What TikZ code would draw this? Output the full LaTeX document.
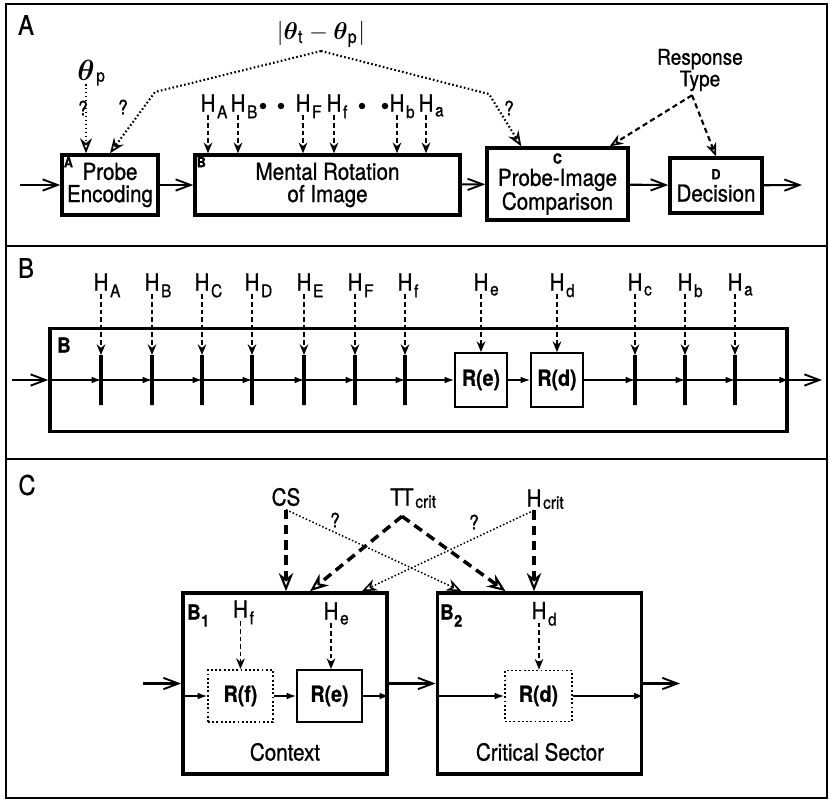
\documentclass[tikz,border=0pt]{standalone}
\usepackage{amsmath}
\usepackage{fontspec}
\setmainfont{TeX Gyre Heros}[FakeStretch=0.88, FakeBold=0.8]
\usetikzlibrary{positioning, arrows.meta, calc}

\newcommand{\mainsize}{\fontsize{20}{19}\selectfont}
\newcommand{\subsize}{\fontsize{15}{15}\selectfont}
\newcommand{\tagsize}{\fontsize{12}{12}\selectfont\bfseries}

\begin{document}
\begin{tikzpicture}[
    x=0.03cm, y=-0.03cm,
    panel/.style={line width=1.5pt},
    panelmark/.style={font=\fontsize{23}{23}\selectfont, inner sep=0pt},
    stage/.style={draw, line width=3pt, align=center, font=\mainsize, inner sep=2pt},
    rbox/.style={draw, line width=1.6pt, font=\fontsize{19}{19}\selectfont\bfseries, minimum width=1.56cm, minimum height=1.62cm},
    rdot/.style={rbox, dash pattern=on 1.6pt off 2pt},
    bar/.style={draw, line width=3pt, minimum width=0pt, minimum height=1.5cm, inner sep=0pt, outer sep=0pt},
    hlab/.style={font=\mainsize, inner sep=3pt},
    sub/.style={font=\subsize, anchor=west, inner sep=0pt, xshift=-2pt, yshift=-7.5pt},
    tag/.style={font=\tagsize, inner sep=3pt},
    bigtag/.style={font=\fontsize{18}{18}\selectfont\bfseries, inner sep=0pt},
    qm/.style={font=\fontsize{17}{17}\selectfont, inner sep=0pt},
    dot/.style={circle, fill, inner sep=0pt, minimum size=5.5pt},
    flow/.style={line width=1.8pt, -{Straight Barb[length=4.5mm, width=3.4mm, line width=1.6pt]}},
    link/.style={line width=1.1pt, -{Latex[length=2.8mm, width=2mm]}},
    cue/.style={line width=1.8pt, dash pattern=on 4pt off 2.5pt, -{Stealth[length=3.2mm, width=2.6mm]}},
    cuethin/.style={line width=1.4pt, dash pattern=on 4pt off 2.5pt, -{Stealth[open, length=3.2mm, width=2.6mm]}},
    probe/.style={line width=1.8pt, dash pattern=on 1.4pt off 2pt, -{Stealth[open, length=4.5mm, width=3.6mm, line width=1.5pt]}},
    resp/.style={line width=1.8pt, dash pattern=on 4.5pt off 3pt, -{Stealth[open, length=4mm, width=3.2mm, line width=1.4pt]}},
    heavy/.style={line width=3pt, dash pattern=on 8pt off 5pt, -{Stealth[open, length=5.5mm, width=4.4mm, line width=1.8pt]}},
    faint/.style={line width=1.3pt, dash pattern=on 1.3pt off 1.8pt, -{Stealth[open, length=4.5mm, width=3.6mm, line width=1.3pt]}}
]
\useasboundingbox (0,0) rectangle (830,800);

% panel frames
\draw[panel] (6,4) rectangle (827,246);
\draw[panel] (6,246) rectangle (827,459);
\draw[panel] (6,459) rectangle (827,798);
\node[panelmark] (labA) at (26,25) {A};
\node[panelmark] (labB) at (26,268) {B};
\node[panelmark] (labC) at (27,485) {C};

% ---- panel A ----
\node[stage, minimum width=2.88cm, minimum height=1.8cm] (pA) at (110,185) {Probe\\Encoding};
\node[stage, minimum width=7.95cm, minimum height=1.8cm] (pB) at (327.5,185) {Mental Rotation\\of Image};
\node[stage, minimum width=4.23cm, minimum height=2.16cm] (pC) at (557.5,184) {{\tagsize C}\\Probe-Image\\Comparison};
\node[stage, minimum width=2.76cm, minimum height=1.65cm] (pD) at (716,185.5) {{\tagsize D}\\Decision};
\node[tag, anchor=north west] (tA) at (pA.north west) {A};
\node[tag, anchor=north west] (tB) at (pB.north west) {B};

\coordinate (inA) at (20,185);
\coordinate (outA) at (802,185);
\draw[flow] (inA) -- (pA);
\draw[flow] (pA) -- (pB);
\draw[flow] (pB) -- (pC);
\draw[flow] (pC) -- (pD);
\draw[flow] (pD) -- (outA);

\node[hlab, font=\fontsize{23}{23}\selectfont, label={[sub]east:p}] (thp) at (86,70) {$\boldsymbol{\theta}$};
\draw[probe] (thp) -- (thp |- pA.north);

\node[font=\fontsize{22}{22}\selectfont] (diff) at (321,34) {$|\boldsymbol{\theta}_{\mathrm{t}} - \boldsymbol{\theta}_{\mathrm{p}}|$};
\coordinate (kinkL) at (155,92);
\coordinate (kinkR) at (489,94);
\draw[probe] (diff.south) -- (kinkL) -- (pA.north);
\draw[probe] (diff.south) -- (kinkR) -- ($(pC.north west)+(36,0)$);
\node[qm] (q1) at (83,108) {?};
\node[qm] (q2) at (123,107) {?};
\node[qm] (q3) at (509,108) {?};

\foreach \x/\s [count=\i] in {208/A,238/B,303/F,334/f,397/b,426/a}{
  \node[hlab, label={[sub]east:\s}] (ha\i) at (\x,103) {H};
  \draw[cue] (ha\i) -- (ha\i |- pB.north);
}
\foreach \x [count=\i] in {263,281,362,385} \node[dot] (da\i) at (\x,106) {};

\node[font=\fontsize{18.5}{17}\selectfont, align=center] (rt) at (700,70) {Response\\Type};
\coordinate (rtfork) at ($(rt.south)+(-8,0)$);
\draw[resp] (rtfork) -- ($(pC.north east)+(-20,0)$);
\draw[resp] (rtfork) -- (pD.north);

% ---- panel B ----
\node[stage, minimum width=22.11cm, minimum height=3.09cm] (bigB) at (418.5,380) {};
\node[bigtag] (tBB) at (64,345) {B};

\foreach \x/\s [count=\i] in {101/A,152/B,202/C,252/D,304/E,355/F,405/f,635/c,685/b,735/a}{
  \node[bar] (bb\i) at (\x,380) {};
  \node[hlab, label={[sub]east:\s}] (hb\i) at (\x,282) {H};
  \draw[cue] (hb\i) -- (bb\i);
}
\node[rbox] (rbe) at (481,380) {R(e)};
\node[rbox] (rbd) at (557,380) {R(d)};
\node[hlab, label={[sub]east:e}] (hbe) at (481,282) {H};
\node[hlab, label={[sub]east:d}] (hbd) at (557,282) {H};
\draw[cue] (hbe) -- (rbe);
\draw[cue] (hbd) -- (rbd);

\draw[link] (bigB.west |- bb1) -- (bb1);
\foreach \a/\b in {bb1/bb2,bb2/bb3,bb3/bb4,bb4/bb5,bb5/bb6,bb6/bb7,bb7/rbe,rbe/rbd,rbd/bb8,bb8/bb9,bb9/bb10}
  \draw[link] (\a) -- (\b);
\draw[link] (bb10) -- (bigB.east |- bb10);

\coordinate (inB) at (12,380);
\coordinate (outB) at (822,380);
\draw[flow] (inB) -- (bigB.west);
\draw[flow] (bigB.east) -- (outB);

% ---- panel C ----
\node[stage, minimum width=6.13cm, minimum height=5.43cm] (bc1) at (285,683.5) {};
\node[stage, minimum width=6.13cm, minimum height=5.43cm] (bc2) at (539.5,683.5) {};
\node[bigtag, label={[sub, xshift=2pt, font=\fontsize{14}{14}\selectfont\bfseries]east:1}] (lb1) at (194,612) {B};
\node[bigtag, label={[sub, xshift=2pt, font=\fontsize{14}{14}\selectfont\bfseries]east:2}] (lb2) at (447,612) {B};

\node[rdot, minimum width=1.95cm, minimum height=1.56cm] (rcf) at (240.5,696) {R(f)};
\node[rbox, minimum width=1.95cm, minimum height=1.56cm] (rce) at (329.5,696) {R(e)};
\node[rdot, minimum width=2.01cm, minimum height=1.53cm] (rcd) at (538.5,696) {R(d)};
\node[hlab, label={[sub]east:f}] (hcf) at (240.5,609) {H};
\node[hlab, label={[sub]east:e}] (hce) at (331,611) {H};
\node[hlab, label={[sub]east:d}] (hcd) at (539,610.5) {H};
\draw[cuethin] (hcf) -- (hcf |- rcf.north);
\draw[cuethin] (hce) -- (hce |- rce.north);
\draw[cuethin] (hcd) -- (hcd |- rcd.north);

\draw[link] (bc1.west |- rcf) -- (rcf);
\draw[link] (rcf) -- (rce);
\draw[link] (rce) -- (bc1.east |- rce);
\draw[link] (bc2.west |- rcd) -- (rcd);
\draw[link] (rcd) -- (bc2.east |- rcd);

\coordinate (inC) at (143,683.5);
\coordinate (outC) at (680,683.5);
\draw[flow] (inC) -- (bc1);
\draw[flow] (bc1) -- (bc2);
\draw[flow] (bc2) -- (outC);

\node[font=\mainsize] (ctx) at (285,752) {Context};
\node[font=\mainsize] (crit) at (540,752) {Critical Sector};

\node[hlab] (cs) at (286,497) {CS};
\node[hlab, label={[sub, yshift=3.5pt]east:crit}] (tt) at (402,497) {T\kern-1.5pt T};
\node[hlab, label={[sub, yshift=3.5pt]east:crit}] (hcr) at (534,498) {H};
\coordinate (ttfork) at ($(tt.south)+(0,7)$);

\draw[heavy] (cs) -- (cs |- bc1.north);
\draw[heavy] (ttfork) -- ($(bc1.north)+(25,0)$);
\draw[heavy] (ttfork) -- ($(bc2.north west)+(70,0)$);
\draw[heavy] (hcr) -- (hcr |- bc2.north);
\draw[faint] (cs.south) -- ($(bc2.north west)+(26,0)$);
\draw[faint] (hcr.south) -- ($(bc1.north east)+(-27,0)$);
\node[qm] (qc1) at (335,520) {?};
\node[qm] (qc2) at (474,522) {?};
\end{tikzpicture}
\end{document}
